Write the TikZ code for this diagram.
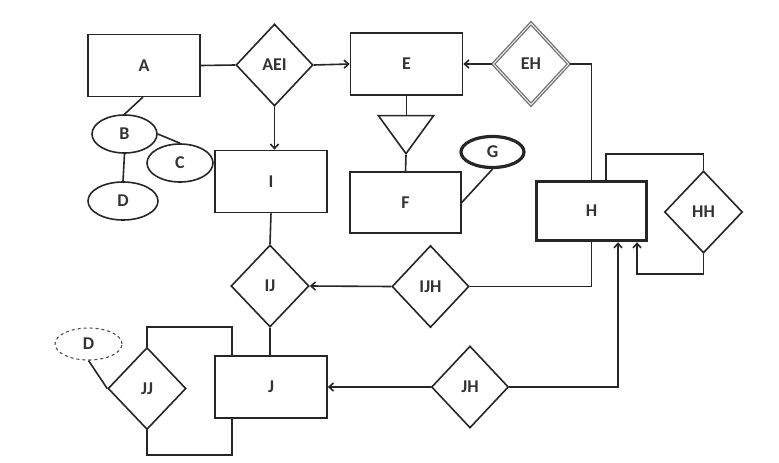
\documentclass[tikz,border=0pt]{standalone}
\usepackage{fontspec}
\setmainfont{Carlito}
\usetikzlibrary{shapes.geometric,arrows.meta}
\begin{document}
\begin{tikzpicture}[x=1pt,y=-1pt,
  lw/.style={line width=1.6pt, draw=black!85},
  ent/.style={lw, rectangle, minimum width=112pt, minimum height=62pt, inner sep=0pt},
  rel/.style={lw, diamond, minimum width=77pt, minimum height=82pt, inner sep=0pt, aspect=1},
  att/.style={lw, ellipse, minimum width=66pt, minimum height=38pt, inner sep=0pt},
  lbl/.style={font=\fontsize{18}{20}\selectfont\bfseries, text=black!80},
  con/.style={lw},
  arr/.style={lw, -{Straight Barb[length=4.5pt,width=8pt]}}
]
\useasboundingbox (0,0) rectangle (779,463);
% entities
\node[ent, lbl] (A) at (144,65.5) {A};
\node[ent, lbl, minimum height=62pt] (E) at (406.5,64) {E};
\node[ent, lbl] (I) at (271,181.5) {I};
\node[ent, lbl, minimum width=111pt, minimum height=61pt] (F) at (405.5,202.5) {F};
\node[ent, lbl, line width=3.4pt, minimum width=110pt, minimum height=59pt] (H) at (591.5,211) {H};
\node[ent, lbl] (J) at (271,387) {J};
% relationships
\node[rel, lbl] (AEI) at (274.5,65) {AEI};
\node[rel, lbl, draw=black!55, double=black!8, double distance=1pt, line width=1.3pt, minimum width=76pt, minimum height=82pt] (EH) at (531,64) {EH};
\node[rel, lbl, minimum width=78pt] (HH) at (703.5,212) {HH};
\node[rel, lbl, minimum width=78pt] (IJ) at (270,286) {IJ};
\node[rel, lbl] (IJH) at (430.5,286.5) {IJH};
\node[rel, lbl] (JH) at (470,387) {JH};
\node[rel, lbl, minimum width=78pt] (JJ) at (147,388.5) {JJ};
% attributes
\node[att, lbl, minimum width=65pt] (B) at (124.5,134) {B};
\node[att, lbl] (C) at (180,163) {C};
\node[att, lbl, minimum width=70pt] (D) at (123,201) {D};
\node[att, lbl, line width=3.2pt, minimum width=63pt, minimum height=31pt] (G) at (492.5,152) {G};
\node[att, lbl, dashed, line width=1.1pt, draw=black!70, minimum width=67pt, minimum height=32pt] (D2) at (88.5,344) {D};
% isa triangle
\node[lw, isosceles triangle, shape border rotate=-90, isosceles triangle apex angle=72, minimum height=38pt, inner sep=0pt, anchor=apex] (T) at (406,155) {};
% connectors
\draw[con] (A.east) -- (AEI.west);
\draw[arr] (AEI.east) -- (E.west);
\draw[arr] (AEI.south) -- (AEI.south |- I.north);
\draw[con] (143,97) coordinate (a1) -- (B.north);
\draw[con] (B.east) -- (C.north);
\draw[con] (B.south) -- (D.north);
\draw[arr] (EH.west) -- (E.east);
\draw[con] (EH.east) -| (H.north);
\draw[con] (E.south) -- (E.south |- T.north);
\draw[con] (T.apex) -- (F.north);
\draw[con] (G.south) -- (F.east);
\draw[con] (606,181) coordinate (h1) |- (703.5,154) coordinate (h2) -- (HH.north);
\coordinate (h3) at (637,274);
\draw[arr] (HH.south) |- (h3) -- (h3 |- H.south);
\draw[con] (H.south) |- (IJH.east);
\draw[arr] (IJH.west) -- (IJ.east);
\draw[con] (I.south) -- (IJ.north);
\draw[con] (IJ.south) -- (IJ.south |- J.north);
\draw[arr] (JH.west) -- (J.east);
\coordinate (h4) at (618,387);
\draw[arr] (JH.east) -- (h4) -- (h4 |- H.south);
\coordinate (j1) at (232,327);
\draw[con] (JJ.north) |- (j1) -- (j1 |- J.north);
\coordinate (j2) at (232,455);
\draw[con] (JJ.south) |- (j2) -- (j2 |- J.south);
\draw[con] (D2.south) -- (JJ.west);
\end{tikzpicture}
\end{document}
